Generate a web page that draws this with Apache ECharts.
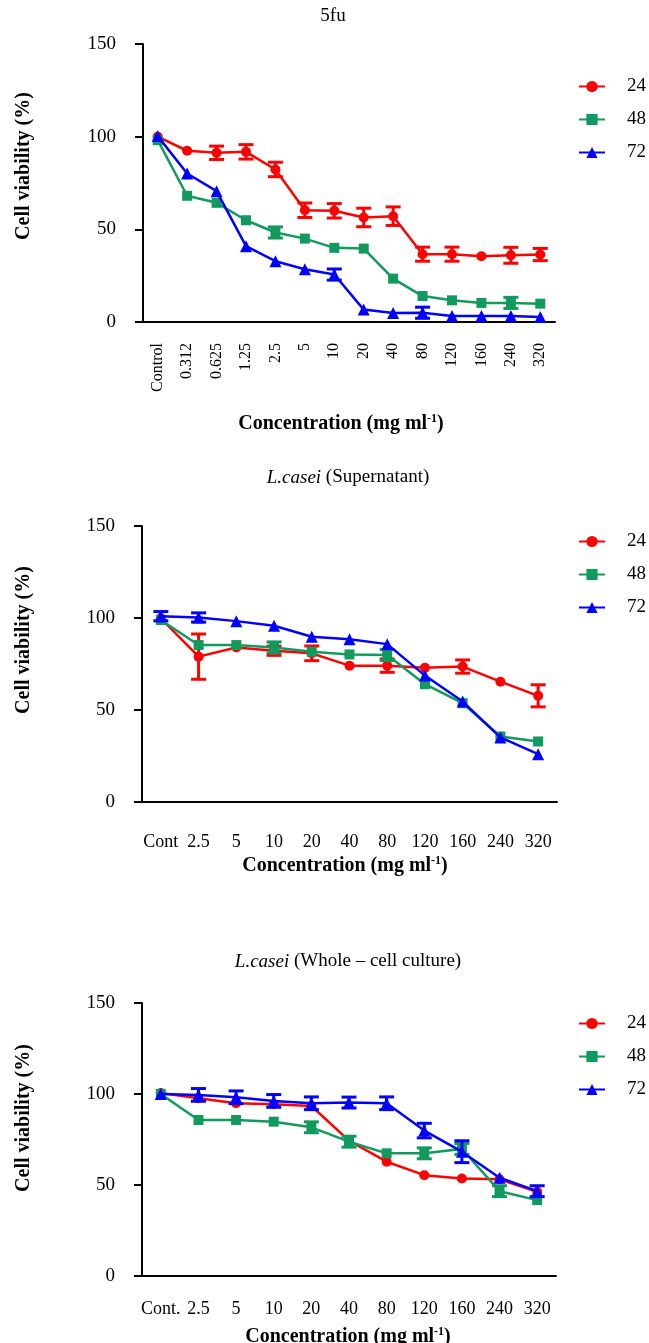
<!DOCTYPE html>
<html>
<head>
<meta charset="utf-8">
<script src="https://cdn.jsdelivr.net/npm/echarts@6/dist/echarts.min.js"></script>
<style>
html,body{margin:0;padding:0;background:#fff;}
#c{width:649px;height:1343px;}
</style>
</head>
<body>
<div id="c"></div>
<script>
// ---- Data ----
const fuCats = ['Control','0.312','0.625','1.25','2.5','5','10','20','40','80','120','160','240','320'];
const fu24 = [100, 92.4, 91.3, 91.8, 82.3, 60.3, 60, 56.4, 57.1, 36.6, 36.6, 35.5, 36, 36.4];
const fu24err = [1, 1, 3.6, 3.9, 3.9, 3.9, 3.9, 5, 5, 3.8, 3.8, 1, 4.3, 3.3];
const fu48 = [98.1, 68.1, 64.3, 54.9, 48.3, 45, 40, 39.6, 23.4, 14, 11.7, 10.3, 10.3, 9.9];
const fu48err = [1, 1, 1, 1, 3, 1, 1, 1, 1, 1, 1, 1, 3, 1];
const fu72 = [100.3, 80.1, 70.6, 40.9, 32.8, 28.5, 25.6, 6.7, 4.9, 5, 3.2, 3.2, 3.2, 2.7];
const fu72err = [1, 1, 1, 1, 1, 1, 3, 1, 1, 3, 1, 1, 1, 1];

const supCats = ['Cont','2.5','5','10','20','40','80','120','160','240','320'];
const sup24 = [99.8, 79, 84, 82.2, 80.8, 74.1, 74.1, 73, 73.6, 65.4, 57.7];
const sup24err = [1, 12.3, 1, 2.5, 4, 1, 3.6, 1, 3.6, 1, 6];
const sup48 = [98.9, 85.3, 85.3, 84, 81.7, 80.2, 79.9, 64, 53.7, 35.6, 32.9];
const sup48err = [1, 1, 1, 3, 1, 1, 3, 1, 1, 1, 1];
const sup72 = [101, 100.3, 98.3, 95.8, 89.8, 88.4, 85.8, 68.7, 54.6, 35.1, 26];
const sup72err = [2.5, 2.5, 1, 1, 1, 1, 1, 1, 1, 1, 1];

const wcCats = ['Cont.','2.5','5','10','20','40','80','120','160','240','320'];
const wc24 = [100.5, 97.7, 94.9, 94.4, 93.4, 74.4, 62.8, 55.4, 53.6, 53.1, 46.3];
const wc24err = [1, 1, 1, 1, 1, 1, 1, 1, 1, 1, 1];
const wc48 = [100, 85.7, 85.7, 84.8, 81.7, 73.8, 67.4, 67.4, 69.8, 46.6, 41.7];
const wc48err = [1, 1, 1, 1, 3, 3, 1, 3, 3, 3, 1];
const wc72 = [100, 99.5, 98.2, 96.2, 94.9, 95.3, 94.9, 79.9, 68.3, 54, 46.6];
const wc72err = [1, 3.5, 3.5, 3.5, 3.5, 3, 3.5, 4, 6, 1, 3];

const yTicks = [0, 50, 100, 150];
const seriesNames = ['24', '48', '72'];

// ---- Styles ----
const FONT = 'Liberation Serif';
const COLORS = {'24': '#ff0000', '48': '#129a5e', '72': '#0000ff'};
const SYMBOLS = {'24': 'circle', '48': 'rect', '72': 'triangle'};
const SYMSIZE = {'24': 10, '48': 10, '72': 12};

const grids = [
  {left: 143, right: 94, top: 44, height: 278, outerBoundsMode: 'none'},
  {left: 142, right: 92, top: 526, height: 276, outerBoundsMode: 'none'},
  {left: 142, right: 93, top: 1003, height: 273, outerBoundsMode: 'none'}
];

const panels = [
  {cats: fuCats, vals: [fu24, fu48, fu72], errs: [fu24err, fu48err, fu72err]},
  {cats: supCats, vals: [sup24, sup48, sup72], errs: [sup24err, sup48err, sup72err]},
  {cats: wcCats, vals: [wc24, wc48, wc72], errs: [wc24err, wc48err, wc72err]}
];

function errRender(color) {
  return function (params, api) {
    const x = api.value(0), y = api.value(1), e = api.value(2);
    if (!e || e < 1.5) return;
    const top = api.coord([x, y + e]);
    const bot = api.coord([x, y - e]);
    const hw = 7.5;
    const st = {stroke: color, lineWidth: 3};
    return {
      type: 'group',
      children: [
        {type: 'line', shape: {x1: top[0], y1: top[1], x2: bot[0], y2: bot[1]}, style: st},
        {type: 'line', shape: {x1: top[0] - hw, y1: top[1], x2: top[0] + hw, y2: top[1]}, style: st},
        {type: 'line', shape: {x1: bot[0] - hw, y1: bot[1], x2: bot[0] + hw, y2: bot[1]}, style: st}
      ]
    };
  };
}

const xLabelCfg = [
  {rotate: 90, margin: 21, fontSize: 16},
  {rotate: 0, margin: 31, fontSize: 18},
  {rotate: 0, margin: 24, fontSize: 18}
];
const xNameCfg = [
  {gap: 91, shift: 16},
  {gap: 53, shift: 9},
  {gap: 50, shift: 2}
];

const xAxes = panels.map((p, gi) => ({
  type: 'category',
  gridIndex: gi,
  data: p.cats,
  boundaryGap: true,
  axisLine: {lineStyle: {color: '#000', width: 2}},
  axisTick: {alignWithLabel: true, length: 7, lineStyle: {color: '#000', width: 2}},
  axisLabel: {interval: 0, rotate: xLabelCfg[gi].rotate, margin: xLabelCfg[gi].margin,
    fontFamily: FONT, fontSize: xLabelCfg[gi].fontSize, color: '#000'},
  name: '{b|Concentration (mg ml}{s|-1}{b|)}',
  nameLocation: 'middle',
  nameGap: xNameCfg[gi].gap,
  nameTextStyle: {
    padding: [0, xNameCfg[gi].shift, 0, 0],
    rich: {
      b: {fontFamily: FONT, fontSize: 20, fontWeight: 'bold', color: '#000'},
      s: {fontFamily: FONT, fontSize: 12, fontWeight: 'bold', color: '#000', verticalAlign: 'top', padding: [0, 0, 9, 0]}
    }
  }
}));

const yAxes = panels.map((p, gi) => ({
  type: 'value',
  gridIndex: gi,
  min: yTicks[0],
  max: yTicks[yTicks.length - 1],
  interval: 50,
  splitLine: {show: false},
  axisLine: {show: true, lineStyle: {color: '#000', width: 2}},
  axisTick: {show: true, length: 8, lineStyle: {color: '#000', width: 2}},
  axisLabel: {margin: 27, fontFamily: FONT, fontSize: 19, color: '#000'}
}));

const series = [];
panels.forEach((p, gi) => {
  seriesNames.forEach((nm, si) => {
    series.push({
      type: 'line',
      name: nm,
      xAxisIndex: gi, yAxisIndex: gi,
      data: p.vals[si],
      symbol: SYMBOLS[nm],
      symbolSize: SYMSIZE[nm],
      showAllSymbol: true,
      color: COLORS[nm],
      lineStyle: {color: COLORS[nm], width: 2.5},
      itemStyle: {color: COLORS[nm]},
      z: 3 + si,
      animation: false
    });
    series.push({
      type: 'custom',
      name: nm + ' error',
      xAxisIndex: gi, yAxisIndex: gi,
      data: p.cats.map((c, i) => [i, p.vals[si][i], p.errs[si][i]]),
      encode: {x: 0, y: 1},
      renderItem: errRender(COLORS[nm]),
      z: 3 + si,
      animation: false
    });
  });
});

const legendTops = [77, 532, 1014];
const legends = legendTops.map(t => ({
  data: seriesNames,
  orient: 'vertical',
  left: 578,
  top: t,
  padding: 0,
  itemWidth: 26,
  itemHeight: 14,
  itemGap: 14,
  textStyle: {fontFamily: FONT, fontSize: 19, color: '#000', padding: [0, 0, 0, 17]},
  selectedMode: false
}));

const titles = [
  {text: '5fu', left: 328, top: 2},
  {text: '{i|L.casei} (Supernatant)', left: 343, top: 463},
  {text: '{i|L.casei} (Whole \u2013 cell culture)', left: 343, top: 947}
].map(t => ({
  text: t.text,
  left: t.left,
  top: t.top,
  textAlign: 'center',
  textStyle: {
    fontFamily: FONT, fontSize: 19, fontWeight: 'normal', color: '#000',
    rich: {i: {fontFamily: FONT, fontSize: 19, fontStyle: 'italic', color: '#000'}}
  }
}));

const yNameCenters = [[24, 166], [24, 640], [24, 1118]];
const graphics = yNameCenters.map(c => ({
  type: 'text',
  x: c[0], y: c[1],
  rotation: Math.PI / 2,
  style: {
    text: 'Cell viability (%)',
    font: 'bold 20px "Liberation Serif"',
    fill: '#000',
    align: 'center',
    verticalAlign: 'middle'
  }
}));

const chart = echarts.init(document.getElementById('c'), null, {renderer: 'canvas'});
chart.setOption({
  backgroundColor: '#fff',
  animation: false,
  title: titles,
  legend: legends,
  grid: grids,
  xAxis: xAxes,
  yAxis: yAxes,
  series: series,
  graphic: graphics
});
</script>
</body>
</html>
